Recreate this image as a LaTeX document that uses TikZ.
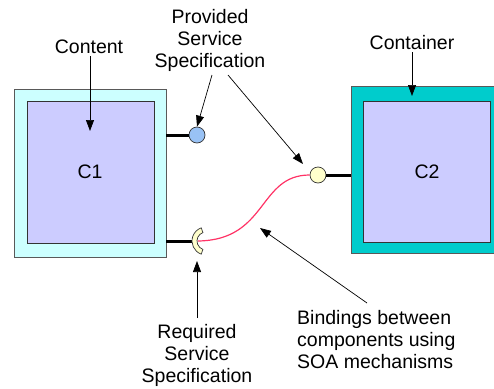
\documentclass[tikz,border=0pt]{standalone}
\usepackage{fontspec}
\setmainfont{Liberation Sans}
\usetikzlibrary{arrows.meta}
\definecolor{outerL}{HTML}{CCFFFF}
\definecolor{innerC}{HTML}{CCCCFF}
\definecolor{outerR}{HTML}{00CCCC}
\definecolor{provC}{HTML}{99C2F5}
\definecolor{reqC}{HTML}{FFFFCC}
\definecolor{bindC}{HTML}{FF3366}
\tikzset{
  outerbox/.style={draw=black!65, line width=0.8pt},
  innerbox/.style={draw=black!80, line width=0.8pt, fill=innerC},
  lbl/.style={font=\fontsize{19.5}{22}\selectfont, align=center, inner sep=0pt},
  ptr/.style={-{Triangle[length=11pt,width=8pt]}, line width=0.7pt},
  stub/.style={line width=3pt},
  bind/.style={draw=bindC, line width=1.2pt},
}
\begin{document}
\begin{tikzpicture}[x=1pt,y=-1pt]
\useasboundingbox (0,0) rectangle (494,388);
% left component
\node[outerbox, fill=outerL, minimum width=152pt, minimum height=168pt, inner sep=0pt] (lo) at (90,173) {};
\node[innerbox, minimum width=127pt, minimum height=142pt, inner sep=0pt] (li) at (90.5,172) {};
\node[lbl] (c1) at (90,172) {C1};
% right component
\node[outerbox, fill=outerR, minimum width=150pt, minimum height=167pt, inner sep=0pt] (ro) at (426,169.5) {};
\node[innerbox, minimum width=127pt, minimum height=141pt, inner sep=0pt] (ri) at (426.5,171.5) {};
\node[lbl] (c2) at (427,172) {C2};
% provided interface (left)
\coordinate (ls1) at (166,135);
\node[circle, draw=black!80, fill=provC, minimum size=16pt, inner sep=0pt, line width=0.7pt] (prov) at (197,135) {};
\draw[stub] (ls1) -- (prov.west);
% provided interface (right)
\coordinate (rs1) at (351,175);
\node[circle, draw=black!80, fill=reqC, minimum size=16pt, inner sep=0pt, line width=0.7pt] (pr2) at (318,175) {};
\draw[stub] (pr2.east) -- (rs1);
% required socket
\coordinate (ls2) at (166,241);
\coordinate (sc) at (206,241);
\coordinate (sockL) at (192,241);
\draw[stub] (ls2) -- (sockL);
\fill[reqC, draw=black!80, line width=0.7pt]
  ([shift={(110:14)}]sc) arc[start angle=110, end angle=250, radius=14]
  -- ([shift={(250:9)}]sc) arc[start angle=250, end angle=110, radius=9] -- cycle;
\coordinate (bstart) at (198,241);
% binding
\draw[bind] (bstart) .. controls (268,240) and (258,175) .. (pr2.west);
% labels
\node[lbl] (content) at (89,47) {Content};
\node[lbl] (provl) at (210,40) {Provided\\Service\\Specification};
\node[lbl] (contl) at (412,43) {Container};
\node[lbl] (reql) at (197,355) {Required\\Service\\Specification};
\node[lbl, align=left, anchor=west] (bindl) at (297,340) {Bindings between\\components using\\SOA mechanisms};
% pointers
\coordinate (bindtip) at (260,228);
\coordinate (pr2tip) at (303,164);
\draw[ptr] (content.south -| 90,0) ++(0,2) -- (90,131);
\draw[ptr] (212,75) -- (prov.north);
\draw[ptr] (228,75) -- (pr2tip);
\draw[ptr] (contl.south) ++(0,2) -- (412,96);
\draw[ptr] (197,318) -- (197,261);
\draw[ptr] (367,303) -- (bindtip);
\end{tikzpicture}
\end{document}
